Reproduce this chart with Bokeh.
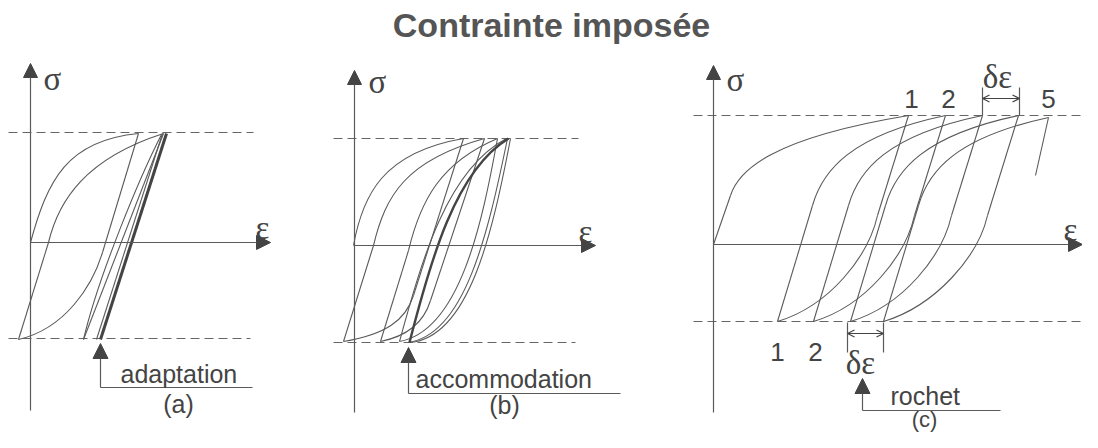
from bokeh.plotting import figure
from bokeh.models import Range1d, Arrow, NormalHead, OpenHead, ColumnDataSource
from bokeh.core.properties import value
from bokeh.embed import file_html
from bokeh.resources import INLINE

# ---------------- data (diagram coordinates) ----------------
# axes with arrow heads: (x_start, y_start, x_end, y_end)
AXES = [(30, 410, 30, 63), (30, 242, 270, 242),
        (354, 412, 354, 70), (354, 245, 595, 245),
        (713, 412, 713, 65), (713, 244, 1082, 244)]

# dashed stress limits: (x0, y0, x1, y1)
LIMITS = [(8, 132, 253, 132), (8, 338, 250, 338),
          (333, 138, 578, 138), (333, 342, 575, 342),
          (693, 115, 1093, 115), (693, 321, 1080, 321)]

# panel (a) adaptation: bezier branches (x0, y0, cx0, cy0, cx1, cy1, x1, y1)
A_CURVES = [(30, 242, 47, 180, 66, 140, 138, 133),
            (102, 252, 92, 285, 65, 328, 18, 339),
            (48, 242, 58, 200, 85, 158, 163, 133),
            (83, 339, 98, 275, 140, 175, 161, 134)]
A_LINES = [(138, 133, 102, 252), (18, 339, 48, 242),
           (163, 133, 83, 339), (162, 133, 96, 339)]
A_THICK = [(166, 133, 100, 339)]

# panel (b) accommodation
B_CURVES = [(353, 245, 362, 195, 382, 152, 463, 138),
            (413, 295, 405, 320, 385, 334, 343, 341),
            (373, 245, 385, 195, 405, 160, 484, 138),
            (430, 300, 423, 323, 405, 336, 380, 341),
            (408, 250, 420, 200, 440, 162, 497, 138),
            (497, 138, 482, 220, 460, 330, 399, 341),
            (399, 341, 420, 265, 445, 170, 506, 138),
            (507, 138, 488, 230, 465, 335, 407, 342),
            (510, 138, 492, 232, 469, 336, 410, 342)]
B_LINES = [(463, 138, 413, 295), (343, 341, 373, 245),
           (484, 138, 430, 300), (380, 341, 408, 250)]
B_THICK = [(409, 342, 430, 260, 455, 170, 508, 138)]

# panel (c) rochet
C_CURVES = [(730, 195, 738, 170, 770, 138, 908, 115),
            (877, 215, 868, 255, 830, 305, 777, 321),
            (914, 215, 905, 255, 866, 305, 813, 321),
            (951, 215, 942, 255, 903, 305, 850, 321),
            (987, 215, 978, 255, 936, 305, 883, 321),
            (812, 205, 822, 170, 850, 135, 945, 115),
            (848, 205, 858, 170, 886, 135, 982, 115),
            (885, 205, 895, 170, 923, 135, 1018, 115),
            (918, 205, 928, 170, 956, 137, 1048, 117)]
C_LINES = [(713, 244, 730, 195),
           (908, 115, 877, 215), (945, 115, 914, 215), (982, 115, 951, 215), (1018, 115, 987, 215),
           (777, 321, 812, 205), (813, 321, 848, 205), (850, 321, 885, 205), (883, 321, 918, 205),
           (1048, 117, 1035, 175)]

# delta-epsilon dimension marks
DIM_TICKS = [(982, 87, 982, 115), (1019, 87, 1019, 115), (847, 322, 847, 352), (883, 322, 883, 352)]
DIM_ARROWS = [(982, 98, 1019, 98), (847, 333, 883, 333)]

# pointer arrows and their leader lines
POINTERS = [(100, 387, 100, 343), (408, 393, 408, 347), (862, 410, 862, 378)]
LEADERS = [(100, 387, 252, 387), (408, 393, 620, 393), (862, 410, 1000, 410)]

# texts (x, baseline y)
TITLE = ("Contrainte imposée", 551, 24)
WORDS = [("adaptation", 120, 373), ("accommodation", 415, 378), ("rochet", 890, 395)]
TAGS = [("(a)", 178, 403), ("(b)", 504, 404)]
TAG_C = ("(c)", 924, 419)
NUMBERS = [("1", 911, 98), ("2", 948, 98), ("5", 1048, 98), ("1", 777, 351), ("2", 815, 351)]
GREEK = [("σ", 52, 78), ("ε", 262, 227), ("σ", 377, 81), ("ε", 585, 231),
         ("σ", 735, 79), ("ε", 1070, 229), ("δε", 997, 76), ("δε", 860, 362)]

# ---------------- drawing ----------------
LINE = "#5a5a5a"
DARK = "#444444"

p = figure(width=1082, height=432, x_range=Range1d(0, 1082), y_range=Range1d(432, 0),
           output_backend="svg", toolbar_location=None, tools="",
           min_border=0, min_border_left=0, min_border_right=0,
           min_border_top=0, min_border_bottom=0)
p.axis.visible = False
p.xgrid.visible = False
p.ygrid.visible = False
p.outline_line_color = None
p.background_fill_color = "white"
p.border_fill_color = "white"


def seg_source(rows):
    return ColumnDataSource(dict(x0=[r[0] for r in rows], y0=[r[1] for r in rows],
                                 x1=[r[2] for r in rows], y1=[r[3] for r in rows]))


def bez_source(rows):
    return ColumnDataSource(dict(x0=[r[0] for r in rows], y0=[r[1] for r in rows],
                                 cx0=[r[2] for r in rows], cy0=[r[3] for r in rows],
                                 cx1=[r[4] for r in rows], cy1=[r[5] for r in rows],
                                 x1=[r[6] for r in rows], y1=[r[7] for r in rows]))


# dashed limits
p.segment("x0", "y0", "x1", "y1", source=seg_source(LIMITS), line_color="#666666",
          line_width=1.2, line_dash="9 5")

# curves
for rows in (A_CURVES, B_CURVES, C_CURVES):
    p.bezier("x0", "y0", "x1", "y1", "cx0", "cy0", "cx1", "cy1", source=bez_source(rows),
             line_color=LINE, line_width=1.1)
for rows in (A_LINES, C_LINES, B_LINES):
    p.segment("x0", "y0", "x1", "y1", source=seg_source(rows), line_color=LINE, line_width=1.1)
p.segment("x0", "y0", "x1", "y1", source=seg_source(A_THICK), line_color=DARK, line_width=3)
p.bezier("x0", "y0", "x1", "y1", "cx0", "cy0", "cx1", "cy1", source=bez_source(B_THICK),
         line_color=DARK, line_width=2.4)

# dimension ticks and leaders
p.segment("x0", "y0", "x1", "y1", source=seg_source(DIM_TICKS + LEADERS), line_color=LINE,
          line_width=1.2)

# axes arrows
for (xs, ys, xe, ye) in AXES:
    p.add_layout(Arrow(end=NormalHead(size=14, fill_color=DARK, line_color=DARK),
                       x_start=xs, y_start=ys, x_end=xe, y_end=ye,
                       line_color=LINE, line_width=1.2))
for (xs, ys, xe, ye) in POINTERS:
    p.add_layout(Arrow(end=NormalHead(size=15, fill_color=DARK, line_color=DARK),
                       x_start=xs, y_start=ys, x_end=xe, y_end=ye,
                       line_color=LINE, line_width=1.2))
for (xs, ys, xe, ye) in DIM_ARROWS:
    p.add_layout(Arrow(start=OpenHead(size=7, line_color=DARK, line_width=1.2),
                       end=OpenHead(size=7, line_color=DARK, line_width=1.2),
                       x_start=xs, y_start=ys, x_end=xe, y_end=ye,
                       line_color=DARK, line_width=1.2))

# texts
p.text(x=[TITLE[1]], y=[TITLE[2]], text=[TITLE[0]], text_font=value("Liberation Sans"),
       text_font_size="34px", text_font_style="bold", text_color="#555555",
       text_align="center", text_baseline="alphabetic")
p.text(x=[w[1] for w in WORDS], y=[w[2] for w in WORDS], text=[w[0] for w in WORDS],
       text_font=value("Liberation Sans"), text_font_size="25px", text_color=DARK,
       text_align="left", text_baseline="alphabetic")
p.text(x=[w[1] for w in TAGS], y=[w[2] for w in TAGS], text=[w[0] for w in TAGS],
       text_font=value("Liberation Sans"), text_font_size="25px", text_color=DARK,
       text_align="center", text_baseline="alphabetic")
p.text(x=[TAG_C[1]], y=[TAG_C[2]], text=[TAG_C[0]],
       text_font=value("Liberation Sans"), text_font_size="22px", text_color=DARK,
       text_align="center", text_baseline="alphabetic")
p.text(x=[w[1] for w in NUMBERS], y=[w[2] for w in NUMBERS], text=[w[0] for w in NUMBERS],
       text_font=value("Liberation Sans"), text_font_size="26px", text_color=DARK,
       text_align="center", text_baseline="alphabetic")
p.text(x=[w[1] for w in GREEK], y=[w[2] for w in GREEK], text=[w[0] for w in GREEK],
       text_font=value("Liberation Serif"), text_font_size="33px", text_color=DARK,
       text_align="center", text_baseline="alphabetic")

open("out.html", "w").write(file_html(p, INLINE))
